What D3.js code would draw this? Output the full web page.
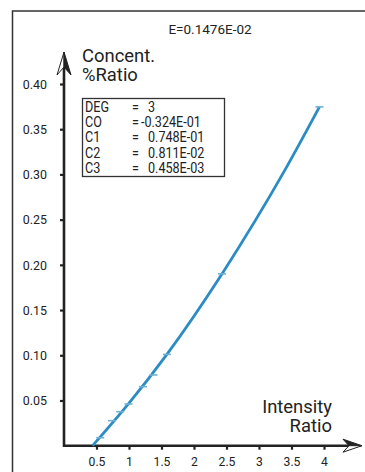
<!DOCTYPE html>
<html>
<head>
<meta charset="utf-8">
<script src="https://d3js.org/d3.v7.min.js"></script>
<style>
body { margin: 0; background: #fff; }
svg text { font-family: "Liberation Sans Narrow", "Arial Narrow", Roboto, sans-serif; fill: #222; }
</style>
</head>
<body>
<svg id="chart" width="365" height="472"></svg>
<script>
// calibration points
var ptX = [0.557, 0.737, 0.865, 0.992, 1.214, 1.377, 1.583, 2.43, 3.93];
var ptY = [0.0088, 0.0277, 0.0376, 0.0461, 0.0653, 0.0782, 0.101, 0.190, 0.3747];
// fitted curve
var curveX = [0.44, 1.0, 1.583, 2.43, 3.40, 3.93];
var curveY = [0.0, 0.047, 0.101, 0.190, 0.305, 0.3747];
var xTicks = [0.5, 1, 1.5, 2, 2.5, 3, 3.5, 4];
var xTickLabels = ["0.5", "1", "1.5", "2", "2.5", "3", "3.5", "4"];
var yTicks = [0.05, 0.10, 0.15, 0.20, 0.25, 0.30, 0.35, 0.40];
var coefNames = ["DEG", "CO", "C1", "C2", "C3"];
var coefValues = ["3", "-0.324E-01", "0.748E-01", "0.811E-02", "0.458E-03"];
var yTitle = ["Concent.", "%Ratio"];
var xTitle = ["Intensity", "Ratio"];
var errorText = "E=0.1476E-02";

var svg = d3.select("#chart");
var x = d3.scaleLinear().domain([0, 4.5]).range([64, 356.5]);
var y = d3.scaleLinear().domain([0, 0.4]).range([445.7, 84]);
var ink = "#222";

// condensed-looking text
function label(px, py, str, size, anchor, sx) {
	return svg.append("g")
		.attr("transform", "translate(" + px + "," + py + ") scale(" + (sx || 1) + ",1)")
		.append("text")
		.attr("text-anchor", anchor || "start")
		.style("font-size", size + "px")
		.text(str);
}
// two-line title as one text element
function title(px, py, lines, anchor) {
	var t = label(px, py, null, 19, anchor, 0.97);
	lines.forEach(function(s, i) {
		t.append("tspan").attr("x", 0).attr("dy", i == 0 ? 0 : 19).text(s);
	});
}

// frame
svg.append("path")
	.attr("d", "M12.5,472 L12.5,11 L365,11")
	.attr("fill", "none")
	.attr("stroke", "#333")
	.attr("stroke-width", 1.5);

label(210, 34, errorText, 13.5, "middle");

// axes
var xAxis = svg.append("g")
	.attr("transform", "translate(0," + y(0) + ")")
	.call(d3.axisBottom(x).tickValues(xTicks).tickFormat((d, i) => xTickLabels[i]).tickSize(4).tickPadding(7));
xAxis.select(".domain").remove();
xAxis.selectAll(".tick line").attr("stroke", ink).attr("stroke-width", 2.2);
xAxis.selectAll(".tick text").style("font-size", "13.5px").attr("fill", ink)
	.attr("transform", "scale(0.9,1)");

var yAxis = svg.append("g")
	.attr("transform", "translate(" + x(0) + ",0)")
	.call(d3.axisLeft(y).tickValues(yTicks).tickFormat(d3.format(".2f")).tickSize(4).tickPadding(13));
yAxis.select(".domain").remove();
yAxis.selectAll(".tick line").attr("stroke", ink).attr("stroke-width", 2.2);
yAxis.selectAll(".tick text").style("font-size", "13.5px").attr("fill", ink)
	.attr("x", -17 / 0.92).attr("transform", "scale(0.92,1)");

svg.append("line")
	.attr("x1", x(0)).attr("x2", x(0))
	.attr("y1", y(0) + 1).attr("y2", 62)
	.attr("stroke", ink).attr("stroke-width", 2.6);
svg.append("line")
	.attr("x1", x(0) - 1).attr("x2", 352)
	.attr("y1", y(0)).attr("y2", y(0))
	.attr("stroke", ink).attr("stroke-width", 2.6);

// arrow heads: one half outlined, one half filled
var ax = x(0);
svg.append("path")
	.attr("d", "M" + ax + ",52 L" + (ax - 7) + ",75 L" + ax + ",67 Z")
	.attr("fill", "#fff").attr("stroke", ink).attr("stroke-width", 1);
svg.append("path")
	.attr("d", "M" + ax + ",52 L" + (ax + 7) + ",75 L" + ax + ",67 Z")
	.attr("fill", ink).attr("stroke", ink).attr("stroke-width", 1);
var ay = y(0);
svg.append("path")
	.attr("d", "M362," + ay + " L343," + (ay - 6.5) + " L349," + ay + " Z")
	.attr("fill", ink).attr("stroke", ink).attr("stroke-width", 1);
svg.append("path")
	.attr("d", "M362," + ay + " L343," + (ay + 6.5) + " L349," + ay + " Z")
	.attr("fill", "#fff").attr("stroke", ink).attr("stroke-width", 1);

// axis titles
title(82, 62, yTitle, "start");
title(332, 413, xTitle, "end");

// coefficient box
svg.append("rect")
	.attr("x", 82.5).attr("y", 98.5)
	.attr("width", 142).attr("height", 78)
	.attr("fill", "#fff").attr("stroke", "#333").attr("stroke-width", 1.3);
coefNames.forEach(function(n, i) {
	var by = 112 + i * 15.2;
	label(85, by, n, 14, "start", 0.9);
	label(132, by, "=", 14, "start", 0.9);
	var v = coefValues[i];
	label(v[0] == "-" ? 141 : 148, by, v, 14, "start", 0.9);
});

// curve
var curveData = curveX.map((d, i) => [d, curveY[i]]);
svg.append("path")
	.datum(curveData)
	.attr("fill", "none")
	.attr("stroke", "#2b8cc4")
	.attr("stroke-width", 2.8)
	.attr("d", d3.line().x(d => x(d[0])).y(d => y(d[1])).curve(d3.curveMonotoneX));

// calibration markers
svg.selectAll(".pt")
	.data(ptX.map((d, i) => [d, ptY[i]]))
	.enter().append("line")
	.attr("class", "pt")
	.attr("x1", d => x(d[0]) - 4).attr("x2", d => x(d[0]) + 4)
	.attr("y1", d => y(d[1])).attr("y2", d => y(d[1]))
	.attr("stroke", "#6fb0d8").attr("stroke-width", 1.6);
</script>
</body>
</html>
